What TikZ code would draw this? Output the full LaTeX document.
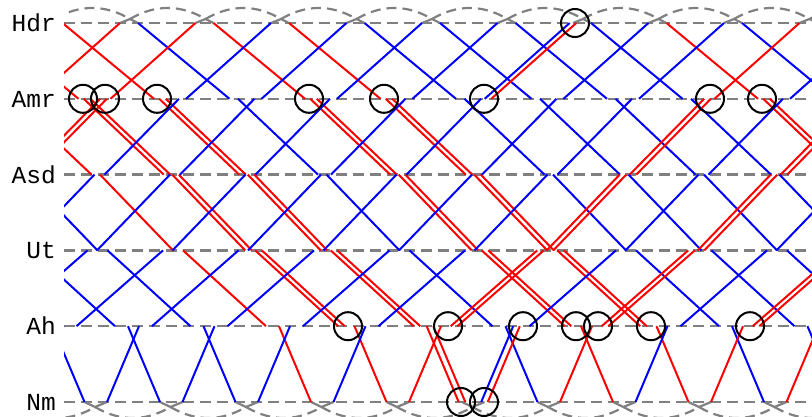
\documentclass[tikz,border=0pt]{standalone}
\usepackage{xcolor}
\usepackage{fontspec}
\setmonofont{Liberation Mono}
\definecolor{railgray}{RGB}{128,128,128}
\definecolor{railblue}{RGB}{0,0,255}
\definecolor{railred}{RGB}{255,0,0}

% one leg between two stations, by make-up of the train
\newcommand\legb[4]{\draw[trip, railblue] (#1,#2) -- (#3,#4);}
\newcommand\legr[4]{\draw[trip, railred] (#1,#2) -- (#3,#4);}
\newcommand\legrr[4]{\draw[trip, railred, xshift=-3.3pt] (#1,#2) -- (#3,#4);
  \draw[trip, railred, xshift=3.3pt] (#1,#2) -- (#3,#4);}
\newcommand\legbr[4]{\draw[trip, railblue, xshift=-3.3pt] (#1,#2) -- (#3,#4);
  \draw[trip, railred, xshift=3.3pt] (#1,#2) -- (#3,#4);}
\newcommand\leg[5]{\csname leg#1\endcsname{#2}{#3}{#4}{#5}}

% Hdr -> Nm, legs Hdr-Amr ... Ah-Nm
\newcommand\downtrip[6]{%
  \pgfmathsetmacro\tdep{138+75.5*(#1)}%
  \pgfmathsetmacro\tA{\tdep}\pgfmathsetmacro\tB{\tdep+91.5}\leg{#2}{\tA}{23}{\tB}{98.8}%
  \pgfmathsetmacro\tA{\tdep+100}\pgfmathsetmacro\tB{\tdep+180}\leg{#3}{\tA}{98.8}{\tB}{174.6}%
  \pgfmathsetmacro\tA{\tdep+188.5}\pgfmathsetmacro\tB{\tdep+261.5}\leg{#4}{\tA}{174.6}{\tB}{250.4}%
  \pgfmathsetmacro\tA{\tdep+271.5}\pgfmathsetmacro\tB{\tdep+354.5}\leg{#5}{\tA}{250.4}{\tB}{326.2}%
  \pgfmathsetmacro\tA{\tdep+367.5}\pgfmathsetmacro\tB{\tdep+399.5}\leg{#6}{\tA}{326.2}{\tB}{402}%
}
% Nm -> Hdr, legs Nm-Ah ... Amr-Hdr
\newcommand\uptrip[6]{%
  \pgfmathsetmacro\tdep{107+75.5*(#1)}%
  \pgfmathsetmacro\tA{\tdep}\pgfmathsetmacro\tB{\tdep+32}\leg{#2}{\tA}{402}{\tB}{326.2}%
  \pgfmathsetmacro\tA{\tdep+45}\pgfmathsetmacro\tB{\tdep+131.5}\leg{#3}{\tA}{326.2}{\tB}{250.4}%
  \pgfmathsetmacro\tA{\tdep+141}\pgfmathsetmacro\tB{\tdep+214}\leg{#4}{\tA}{250.4}{\tB}{174.6}%
  \pgfmathsetmacro\tA{\tdep+224}\pgfmathsetmacro\tB{\tdep+298.5}\leg{#5}{\tA}{174.6}{\tB}{98.8}%
  \pgfmathsetmacro\tA{\tdep+305.5}\pgfmathsetmacro\tB{\tdep+390.5}\leg{#6}{\tA}{98.8}{\tB}{23}%
}

\begin{document}
\begin{tikzpicture}[x=1pt, y=-1pt,
      station/.style={railgray, line width=2.4pt, dash pattern=on 11pt off 6pt},
      turnarc/.style={railgray, line width=2.2pt, dash pattern=on 10pt off 6pt},
      turnleg/.style={railgray, line width=2.2pt},
      trip/.style={line width=2pt},
      ring/.style={draw, circle, line width=2pt, minimum size=28pt, inner sep=0pt},
      stn/.style={anchor=base east, inner sep=0pt, font=\fontsize{24.5}{24.5}\selectfont\ttfamily}]
  \useasboundingbox (0,0) rectangle (812,417);

  \foreach \y/\name in {23/Hdr, 98.8/Amr, 174.6/Asd, 250.4/Ut, 326.2/Ah, 402/Nm}
    \node[stn] (st\name) at (56,\y+8.5) {\name};

  \begin{scope}
    \clip (64,0) rectangle (812,417);
    \foreach \y in {23, 98.8, 174.6, 250.4, 326.2, 402}
      \draw[station] (64,\y) -- (812,\y);

    % turning at Hdr and Nm
    \foreach \m in {-1,...,9}{
      \pgfmathsetmacro\cusp{130+75.5*\m}
      \draw[turnleg] (\cusp-10,23) -- (\cusp,19) -- (\cusp+8,23);
      \draw[turnarc] (\cusp,19) .. controls (\cusp+25,4.3) and (\cusp+50.5,4.3) .. (\cusp+75.5,19);
    }
    \foreach \m in {-1,...,10}{
      \pgfmathsetmacro\cusp{95+75.5*\m}
      \draw[turnleg] (\cusp-10.5,402) -- (\cusp,407) -- (\cusp+12,402);
      \draw[turnarc] (\cusp,407) .. controls (\cusp+25,421.7) and (\cusp+50.5,421.7) .. (\cusp+75.5,407);
    }

    \downtrip{-6}{b}{b}{b}{b}{b}
    \downtrip{-5}{b}{b}{b}{b}{b}
    \downtrip{-4}{b}{b}{b}{b}{b}
    \downtrip{-3}{r}{r}{r}{r}{r}
    \downtrip{-2}{r}{rr}{rr}{rr}{r}
    \downtrip{-1}{r}{rr}{rr}{rr}{rr}
    \downtrip{0}{b}{b}{b}{b}{b}
    \downtrip{1}{r}{rr}{rr}{rr}{r}
    \downtrip{2}{r}{rr}{rr}{rr}{r}
    \downtrip{3}{b}{b}{b}{b}{b}
    \downtrip{4}{b}{b}{b}{b}{b}
    \downtrip{5}{b}{b}{b}{b}{b}
    \downtrip{6}{b}{b}{b}{b}{b}
    \downtrip{7}{r}{rr}{rr}{rr}{r}
    \downtrip{8}{b}{b}{b}{b}{b}

    \uptrip{-5}{b}{b}{b}{b}{r}
    \uptrip{-4}{b}{b}{b}{rr}{r}
    \uptrip{-3}{b}{b}{b}{b}{b}
    \uptrip{-2}{b}{b}{b}{b}{b}
    \uptrip{-1}{b}{b}{b}{b}{b}
    \uptrip{0}{b}{b}{b}{b}{b}
    \uptrip{1}{b}{b}{b}{b}{br}
    \uptrip{2}{b}{b}{b}{b}{b}
    \uptrip{3}{b}{b}{b}{b}{b}
    \uptrip{4}{r}{rr}{rr}{rr}{r}
    \uptrip{5}{br}{b}{b}{b}{b}
    \uptrip{6}{r}{rr}{rr}{rr}{r}
    \uptrip{7}{b}{b}{b}{b}{b}
    \uptrip{8}{r}{rr}{rr}{rr}{r}
    \uptrip{9}{r}{b}{b}{b}{b}

    % coupling and uncoupling
    \foreach \x/\y [count=\i] in {575/23, 83/98.8, 105/98.8, 157/98.8, 309/98.8,
        384/98.8, 484/98.8, 710/98.8, 762/98.8, 348/326.2, 448/326.2, 523/326.2,
        576/326.2, 598/326.2, 651/326.2, 750/326.2, 461/402, 484/402}
      \node[ring] (ring\i) at (\x,\y) {};
  \end{scope}
\end{tikzpicture}
\end{document}
